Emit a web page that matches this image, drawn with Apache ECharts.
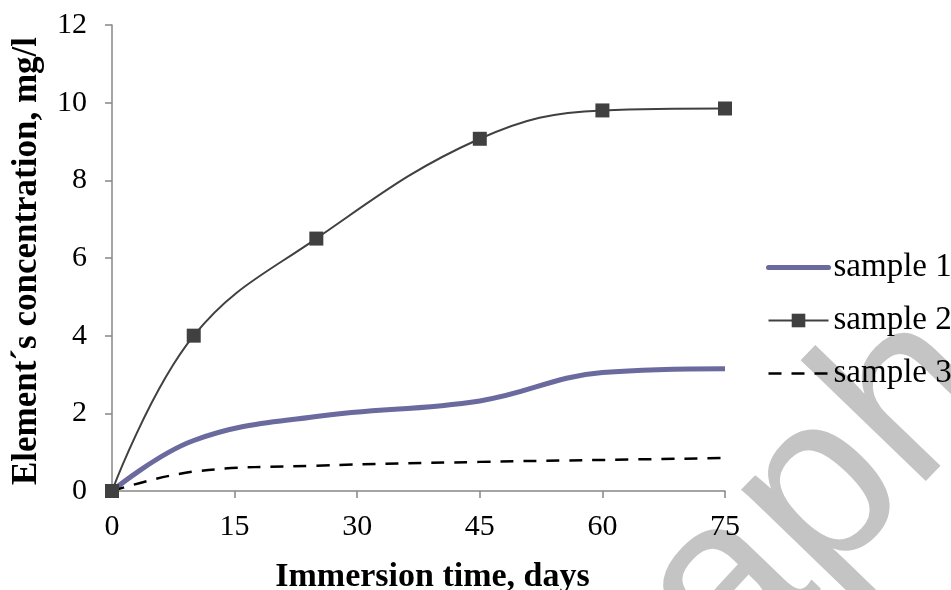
<!DOCTYPE html>
<html>
<head>
<meta charset="utf-8">
<script src="https://cdn.jsdelivr.net/npm/echarts@6/dist/echarts.min.js"></script>
<style>
  html, body { margin: 0; padding: 0; background: #fff; }
  #main { width: 951px; height: 590px; }
</style>
</head>
<body>
<div id="main"></div>
<script>
// immersion days
var days = [0, 10, 25, 45, 60, 75];
// element concentration, mg/l
var sample1 = [0, 1.3, 1.92, 2.32, 3.05, 3.15];
var sample2 = [0, 4.0, 6.5, 9.07, 9.8, 9.85];
var sample3 = [0, 0.5, 0.65, 0.75, 0.8, 0.85];
var seriesNames = ['sample 1', 'sample 2', 'sample 3'];

function pairs(ys) {
    var out = [];
    for (var i = 0; i < days.length; i++) {
        out.push([days[i], ys[i]]);
    }
    return out;
}

var font = 'Liberation Serif';
var myChart = echarts.init(document.getElementById('main'));

var option = {
    animation: false,
    textStyle: { fontFamily: font, color: '#000' },
    grid: { left: 112, right: 226, top: 25, bottom: 99, outerBoundsMode: 'none' },
    legend: {
        orient: 'vertical',
        left: 761,
        top: 246,
        itemWidth: 60,
        itemHeight: 17,
        itemGap: 20,
        textStyle: { fontFamily: font, fontSize: 33, color: '#000' },
        data: [
            { name: seriesNames[0], lineStyle: { width: 5, cap: 'round' }, itemStyle: { opacity: 0 } },
            { name: seriesNames[1], lineStyle: { width: 2 } },
            { name: seriesNames[2], lineStyle: { width: 2.5 }, itemStyle: { opacity: 0 } }
        ]
    },
    xAxis: {
        type: 'value',
        min: 0, max: 75, interval: 15,
        name: 'Immersion time, days',
        nameLocation: 'middle',
        nameGap: 69,
        nameTextStyle: { fontFamily: font, fontSize: 34, fontWeight: 'bold', color: '#000', padding: [0, 0, 0, 28] },
        axisLine: { lineStyle: { color: '#868686', width: 1.5 } },
        axisTick: { length: 7, lineStyle: { color: '#868686', width: 1.5 } },
        axisLabel: { fontFamily: font, fontSize: 30, color: '#000', margin: 21 },
        splitLine: { show: false }
    },
    yAxis: {
        type: 'value',
        min: 0, max: 12, interval: 2,
        name: 'Element\u00b4s concentration, mg/l',
        nameLocation: 'middle',
        nameGap: 68,
        nameTextStyle: { fontFamily: font, fontSize: 35, fontWeight: 'bold', color: '#000', padding: [0, 6, 0, 0] },
        axisLine: { show: true, lineStyle: { color: '#868686', width: 1.5 } },
        axisTick: { show: true, length: 7, lineStyle: { color: '#868686', width: 1.5 } },
        axisLabel: { fontFamily: font, fontSize: 30, color: '#000', margin: 25 },
        splitLine: { show: false }
    },
    series: [
        {
            name: seriesNames[0],
            type: 'line',
            data: pairs(sample1),
            smooth: 0.4,
            symbol: 'none',
            lineStyle: { color: '#6A6A9E', width: 5 },
            itemStyle: { color: '#6A6A9E' },
            z: 2
        },
        {
            name: seriesNames[1],
            type: 'line',
            data: pairs(sample2),
            smooth: 0.4,
            symbol: 'rect',
            symbolSize: 14,
            lineStyle: { color: '#404040', width: 2 },
            itemStyle: { color: '#404040' },
            z: 3
        },
        {
            name: seriesNames[2],
            type: 'line',
            data: pairs(sample3),
            smooth: 0.4,
            symbol: 'none',
            lineStyle: { color: '#000', width: 2.5, type: [13, 10] },
            itemStyle: { color: '#000' },
            z: 2
        }
    ],
    // grey watermark in the lower right corner, under the texts
    graphic: [
        {
            type: 'text',
            x: 712,
            y: 780,
            rotation: 46 * Math.PI / 180,
            silent: true,
            z: 0,
            style: {
                text: 'raph',
                font: 'normal 240px "Liberation Sans"',
                fill: '#c4c4c4',
                textAlign: 'left',
                textVerticalAlign: 'bottom'
            }
        }
    ]
};

myChart.setOption(option);
</script>
</body>
</html>
